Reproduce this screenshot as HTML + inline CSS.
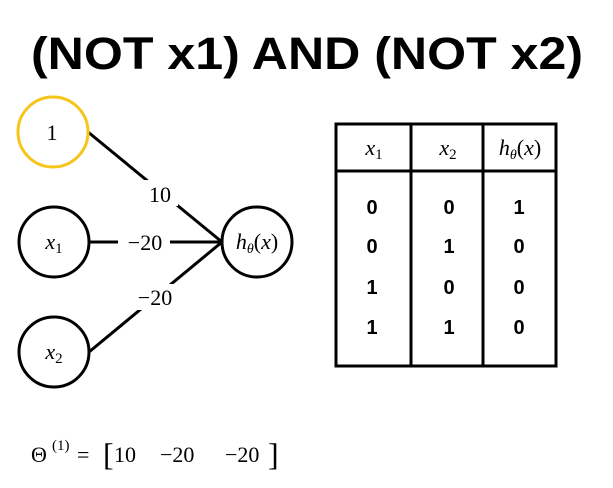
<!DOCTYPE html>
<html><head><meta charset="utf-8"><style>
body{margin:0;background:#fff;width:613px;height:488px;overflow:hidden}
svg{display:block}
.m{font-family:"Liberation Serif",serif;font-size:22px}
.b{font-family:"Liberation Sans",sans-serif;font-weight:bold;font-size:20px}
</style></head><body>
<svg width="613" height="488">
<text x="307" y="69" text-anchor="middle" font-family="Liberation Sans, sans-serif" font-weight="bold" font-size="45" textLength="552" lengthAdjust="spacingAndGlyphs">(NOT x1) AND (NOT x2)</text>
<g stroke="#000" stroke-width="3" fill="none">
<line x1="88" y1="132" x2="222" y2="242"/>
<line x1="89" y1="242" x2="222" y2="242"/>
<line x1="89" y1="352" x2="222" y2="242"/>
</g>
<g fill="#fff">
<rect x="142" y="180" width="36" height="26"/>
<rect x="118" y="230" width="52" height="26"/>
<rect x="130" y="284" width="50" height="26"/>
</g>
<circle cx="53" cy="132" r="35" fill="#fff" stroke="#f5c518" stroke-width="3"/>
<circle cx="54" cy="242" r="35" fill="#fff" stroke="#000" stroke-width="3"/>
<circle cx="54" cy="352" r="35" fill="#fff" stroke="#000" stroke-width="3"/>
<circle cx="257" cy="242" r="35" fill="#fff" stroke="#000" stroke-width="3"/>
<text class="m" x="52" y="140" text-anchor="middle">1</text>
<text class="m" x="54" y="249" text-anchor="middle"><tspan font-style="italic">x</tspan><tspan font-size="15" dy="4">1</tspan></text>
<text class="m" x="54" y="359" text-anchor="middle"><tspan font-style="italic">x</tspan><tspan font-size="15" dy="4">2</tspan></text>
<text class="m" x="257" y="249" text-anchor="middle"><tspan font-style="italic">h</tspan><tspan font-size="14" font-style="italic" dy="4">θ</tspan><tspan dy="-4">(</tspan><tspan font-style="italic">x</tspan>)</text>
<text class="m" x="160" y="202" text-anchor="middle">10</text>
<text class="m" x="145" y="250" text-anchor="middle">−20</text>
<text class="m" x="155" y="305" text-anchor="middle">−20</text>
<g stroke="#000" stroke-width="3" fill="none">
<rect x="336" y="124" width="220" height="242"/>
<line x1="411" y1="124" x2="411" y2="366"/>
<line x1="483" y1="124" x2="483" y2="366"/>
<line x1="336" y1="171" x2="556" y2="171"/>
</g>
<text class="m" x="374" y="155" text-anchor="middle"><tspan font-style="italic">x</tspan><tspan font-size="15" dy="4">1</tspan></text>
<text class="m" x="448" y="155" text-anchor="middle"><tspan font-style="italic">x</tspan><tspan font-size="15" dy="4">2</tspan></text>
<text class="m" x="520" y="155" text-anchor="middle"><tspan font-style="italic">h</tspan><tspan font-size="14" font-style="italic" dy="4">θ</tspan><tspan dy="-4">(</tspan><tspan font-style="italic">x</tspan>)</text>
<g class="b" text-anchor="middle">
<text x="372" y="214">0</text><text x="449" y="214">0</text><text x="519" y="214">1</text>
<text x="372" y="253">0</text><text x="449" y="253">1</text><text x="519" y="253">0</text>
<text x="372" y="294">1</text><text x="449" y="294">0</text><text x="519" y="294">0</text>
<text x="372" y="334">1</text><text x="449" y="334">1</text><text x="519" y="334">0</text>
</g>
<g class="m" font-size="24">
<text x="31" y="462">Θ</text>
<text x="52" y="450" font-size="15">(1)</text>
<text x="77" y="462">=</text>
<text x="103" y="465" font-size="32">[</text>
<text x="114" y="462">10</text>
<text x="160" y="462">−20</text>
<text x="225" y="462">−20</text>
<text x="268" y="465" font-size="32">]</text>
</g>
</svg>
</body></html>
